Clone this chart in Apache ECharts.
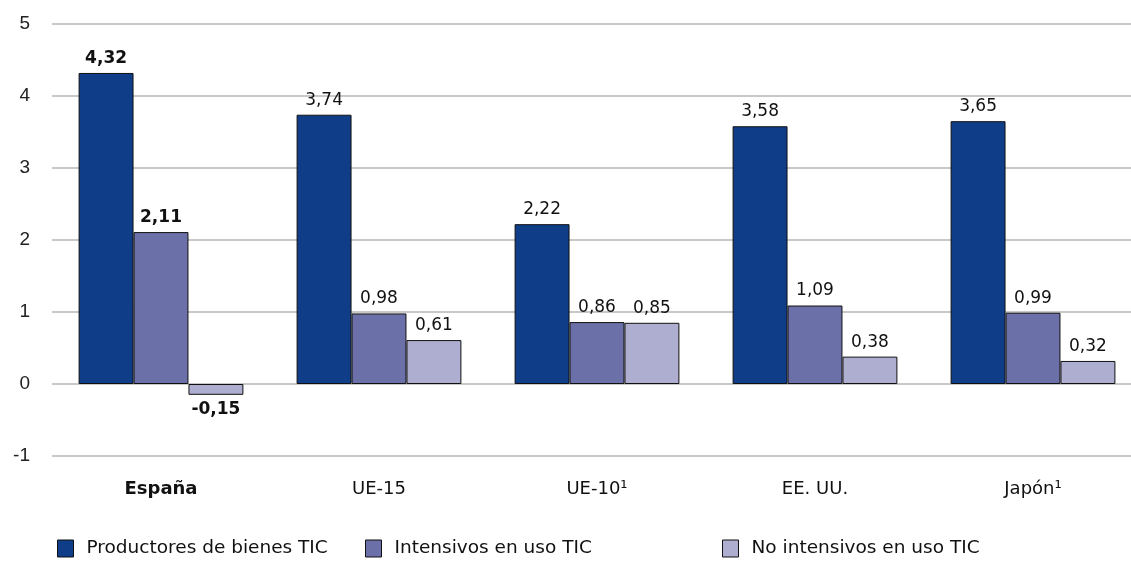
<!DOCTYPE html>
<html><head><meta charset="utf-8">
<script src="https://cdn.jsdelivr.net/npm/echarts@6/dist/echarts.min.js"></script>
<style>html,body{margin:0;padding:0;background:#fff}#c{width:1131px;height:579px}</style>
</head><body><div id="c"></div>
<script>
var categories = ['España', 'UE-15', 'UE-10¹', 'EE. UU.', 'Japón¹'];
var seriesNames = ['Productores de bienes TIC', 'Intensivos en uso TIC', 'No intensivos en uso TIC'];
var productores = [4.32, 3.74, 2.22, 3.58, 3.65];
var intensivos = [2.11, 0.98, 0.86, 1.09, 0.99];
var noIntensivos = [-0.15, 0.61, 0.85, 0.38, 0.32];
var yTicks = [-1, 0, 1, 2, 3, 4, 5];
var colors = ['#0f3d87', '#6c70a8', '#aeaed0'];
var FONT = 'DejaVu Sans';

function fmt(v){ return v.toFixed(2).replace('.', ','); }
function mkData(arr){
  return arr.map(function(v, i){
    return {
      value: v,
      label: {
        position: v < 0 ? 'bottom' : 'top',
        fontWeight: i === 0 ? 'bold' : 'normal'
      }
    };
  });
}
var allValues = [productores, intensivos, noIntensivos];
var series = allValues.map(function(arr, k){
  return {
    name: seriesNames[k], type: 'bar', data: mkData(arr),
    barGap: '0%', barCategoryGap: '24.4%',
    itemStyle: { color: colors[k], borderColor: '#111', borderWidth: 1 },
    label: { show: true, fontFamily: FONT, fontSize: 17, color: '#111', distance: 6,
      formatter: function(p){ return fmt(p.value); } }
  };
});
var legendLefts = [52, 360, 717];
var legends = seriesNames.map(function(n, k){
  return { data: [n], left: legendLefts[k], top: 534, itemWidth: 16, itemHeight: 17, itemGap: 0,
    icon: 'rect', textStyle: { fontFamily: FONT, fontSize: 18.5, color: '#111', padding: [0,0,0,8] },
    itemStyle: { borderColor: '#111', borderWidth: 1 }, selectedMode: false };
});
var chart = echarts.init(document.getElementById('c'), null, {renderer: 'canvas'});
chart.setOption({
  animation: false,
  color: colors,
  legend: legends,
  grid: { left: 52, width: 1090, top: 24, bottom: 123, containLabel: false, outerBoundsMode: 'none' },
  xAxis: {
    type: 'category', data: categories, position: 'bottom',
    axisLine: { show: false }, axisTick: { show: false },
    axisLabel: { margin: 24, fontFamily: FONT, fontSize: 18, color: '#111',
      formatter: function(v, i){ return i === 0 ? '{b|' + v + '}' : v; },
      rich: { b: { fontFamily: FONT, fontSize: 18, fontWeight: 'bold', color: '#111' } } }
  },
  yAxis: {
    type: 'value', min: yTicks[0], max: yTicks[yTicks.length-1], interval: 1,
    axisLine: { show: false }, axisTick: { show: false },
    axisLabel: { margin: 22, fontFamily: 'Liberation Sans', fontSize: 19, color: '#222', align: 'right' },
    splitLine: { lineStyle: { color: '#c8c8c8', width: 2 } }
  },
  series: series
});
</script></body></html>
